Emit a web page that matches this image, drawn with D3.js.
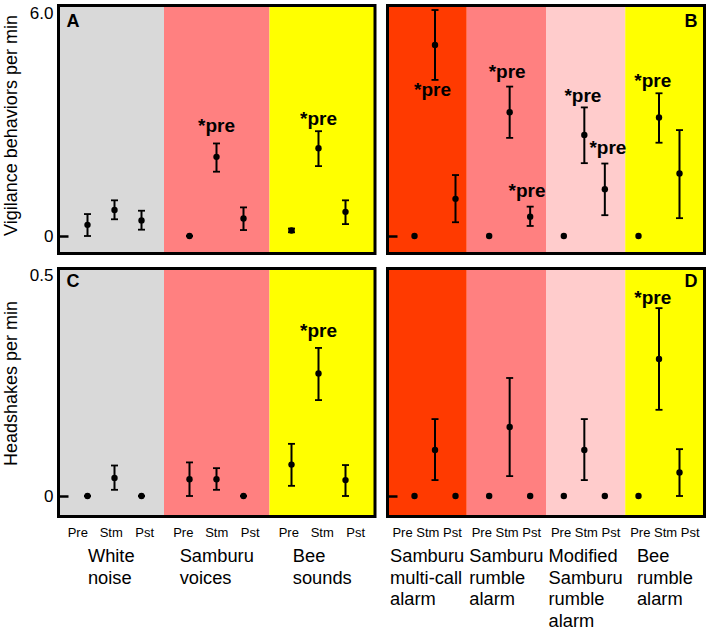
<!DOCTYPE html>
<html><head><meta charset="utf-8">
<script src="https://cdn.jsdelivr.net/npm/d3@7"></script>
<style>
body{margin:0;background:#fff}
svg{display:block}
text{font-family:"Liberation Sans",Arial,Helvetica,sans-serif;fill:#000}
</style>
</head><body>
<svg id="chart" width="712" height="632"></svg>
<script>
// ---------- DATA ----------
const conditions = ["Pre", "Stm", "Pst"];
const controlGroups = [["White", "noise"], ["Samburu", "voices"], ["Bee", "sounds"]];
const alarmGroups = [["Samburu", "multi-call", "alarm"], ["Samburu", "rumble", "alarm"],
                     ["Modified", "Samburu", "rumble", "alarm"], ["Bee", "rumble", "alarm"]];

const vigTicks = [0, 6];
const vigTickLabels = ["0", "6.0"];
const headTicks = [0, 0.5];
const headTickLabels = ["0", "0.5"];

// Panel A: vigilance, control playbacks (rows = groups, cols = Pre/Stm/Pst)
const vigA_mean = [[0.30, 0.70, 0.42], [0.00, 2.13, 0.47], [0.15, 2.36, 0.65]];
const vigA_low  = [[0.00, 0.45, 0.17], [0.00, 1.73, 0.16], [0.10, 1.88, 0.32]];
const vigA_high = [[0.59, 0.96, 0.68], [0.00, 2.49, 0.77], [0.20, 2.82, 0.96]];

// Panel B: vigilance, alarm playbacks
const vigB_mean = [[0, 5.14, 1.00], [0, 3.33, 0.52], [0, 2.72, 1.26], [0, 3.19, 1.68]];
const vigB_low  = [[null, 4.20, 0.37], [null, 2.64, 0.27], [null, 1.96, 0.56], [null, 2.51, 0.48]];
const vigB_high = [[null, 6.08, 1.64], [null, 4.02, 0.79], [null, 3.46, 1.95], [null, 3.84, 2.85]];

// Panel C: headshakes, control playbacks
const headC_mean = [[0, 0.041, 0], [0.038, 0.038, 0], [0.071, 0.277, 0.036]];
const headC_low  = [[0, 0.014, 0], [0, 0.014, 0], [0.023, 0.217, 0]];
const headC_high = [[0, 0.069, 0], [0.076, 0.063, 0], [0.118, 0.335, 0.070]];

// Panel D: headshakes, alarm playbacks
const headD_mean = [[0, 0.104, 0], [0, 0.156, 0], [0, 0.104, 0], [0, 0.310, 0.053]];
const headD_low  = [[null, 0.036, null], [null, 0.045, null], [null, 0.036, null], [null, 0.195, 0.000]];
const headD_high = [[null, 0.174, null], [null, 0.267, null], [null, 0.174, null], [null, 0.425, 0.106]];

// "*pre" significance annotations: group, condition index, value (text baseline)
const annA = [{g: 1, c: 1, v: 2.80}, {g: 2, c: 1, v: 3.00}];
const annB = [{g: 0, c: 0.88, v: 3.77}, {g: 1, c: 0.88, v: 4.24}, {g: 1, c: 1.85, v: 1.05},
              {g: 2, c: 0.93, v: 3.60}, {g: 2, c: 2.15, v: 2.20}, {g: 3, c: 0.70, v: 4.00}];
const annC = [{g: 2, c: 1, v: 0.36}];
const annD = [{g: 3, c: 0.70, v: 0.435}];
const annText = "*pre";

// ---------- STYLE / LAYOUT ----------
const controlColors = ["#d9d9d9", "#ff8080", "#ffff00"];
const alarmColors = ["#ff3a00", "#ff8080", "#ffcccc", "#ffff00"];

const svg = d3.select("#chart");
const leftX = [58.5, 375], rightX = [387.5, 704.5];
const topY = [5.5, 253.5], botY = [268.5, 516.5];

const panels = [
  {letter: "A", xr: leftX, yr: topY, groups: controlGroups, colors: controlColors,
   mean: vigA_mean, low: vigA_low, high: vigA_high, ann: annA,
   domain: [0, 6], range: [236, 13], ticks: vigTicks, tickLabels: vigTickLabels,
   gRange: [114.5, 318.5], step: 27, letterRight: false, letterY: 27},
  {letter: "B", xr: rightX, yr: topY, groups: alarmGroups, colors: alarmColors,
   mean: vigB_mean, low: vigB_low, high: vigB_high, ann: annB,
   domain: [0, 6], range: [236, 13], ticks: vigTicks, tickLabels: null,
   gRange: [435, 659], step: 20.5, letterRight: true, letterY: 27},
  {letter: "C", xr: leftX, yr: botY, groups: controlGroups, colors: controlColors,
   mean: headC_mean, low: headC_low, high: headC_high, ann: annC,
   domain: [0, 0.5], range: [496, 275], ticks: headTicks, tickLabels: headTickLabels,
   gRange: [114.5, 318.5], step: 27, letterRight: false, letterY: 287, bottom: true, condSpacing: 33.5},
  {letter: "D", xr: rightX, yr: botY, groups: alarmGroups, colors: alarmColors,
   mean: headD_mean, low: headD_low, high: headD_high, ann: annD,
   domain: [0, 0.5], range: [496, 275], ticks: headTicks, tickLabels: null,
   gRange: [435, 659], step: 20.5, letterRight: true, letterY: 287, bottom: true, joined: true}
];

panels.forEach(p => {
  const g = svg.append("g");
  const names = p.groups.map(d => d.join(" "));
  const band = d3.scaleBand().domain(names).range(p.xr).paddingInner(0).paddingOuter(0);
  const y = d3.scaleLinear().domain(p.domain).range(p.range);
  const gx = d3.scaleLinear().domain([0, names.length - 1]).range(p.gRange);
  const px = (gi, c) => gx(gi) + (c - 1) * p.step;

  // background bands
  g.selectAll("rect.band").data(names).join("rect")
    .attr("x", d => band(d)).attr("y", p.yr[0])
    .attr("width", band.bandwidth()).attr("height", p.yr[1] - p.yr[0])
    .attr("fill", (d, i) => p.colors[i]);

  // axis
  const axis = d3.axisLeft(y).tickValues(p.ticks)
    .tickFormat((d, i) => p.tickLabels ? p.tickLabels[i] : "")
    .tickSizeInner(-10).tickSizeOuter(0).tickPadding(5);
  const ax = g.append("g").attr("transform", `translate(${p.xr[0]},0)`).call(axis);
  ax.select(".domain").remove();
  ax.selectAll(".tick line").attr("stroke", "#000").attr("stroke-width", 2.5)
    .attr("opacity", d => d === 0 ? 1 : 0);
  ax.selectAll(".tick text").style("font-size", "17px").attr("fill", "#000")
    .style("font-family", '"Liberation Sans",Arial,sans-serif');

  // points
  const pts = [];
  p.mean.forEach((row, gi) => row.forEach((m, c) => {
    pts.push({gi, c, m, lo: p.low[gi][c], hi: p.high[gi][c]});
  }));
  const eb = pts.filter(d => d.lo !== null && d.hi !== null);
  g.selectAll("line.err").data(eb).join("line")
    .attr("x1", d => px(d.gi, d.c)).attr("x2", d => px(d.gi, d.c))
    .attr("y1", d => y(d.lo)).attr("y2", d => y(d.hi))
    .attr("stroke", "#000").attr("stroke-width", 2);
  ["lo", "hi"].forEach(k => {
    g.selectAll("line.cap" + k).data(eb).join("line")
      .attr("x1", d => px(d.gi, d.c) - 3.5).attr("x2", d => px(d.gi, d.c) + 3.5)
      .attr("y1", d => y(d[k])).attr("y2", d => y(d[k]))
      .attr("stroke", "#000").attr("stroke-width", 1.8);
  });
  g.selectAll("circle.pt").data(pts).join("circle")
    .attr("cx", d => px(d.gi, d.c)).attr("cy", d => y(d.m)).attr("r", 3.2)
    .attr("fill", "#000");

  // annotations
  g.selectAll("text.ann").data(p.ann).join("text")
    .attr("x", d => px(d.g, d.c)).attr("y", d => y(d.v))
    .attr("text-anchor", "middle").style("font-size", "19px").style("font-weight", "bold")
    .text(annText);

  // border
  g.append("rect").attr("x", p.xr[0]).attr("y", p.yr[0])
    .attr("width", p.xr[1] - p.xr[0]).attr("height", p.yr[1] - p.yr[0])
    .attr("fill", "none").attr("stroke", "#000").attr("stroke-width", 3);

  // panel letter
  g.append("text").attr("x", p.letterRight ? p.xr[1] - 7 : p.xr[0] + 8).attr("y", p.letterY)
    .attr("text-anchor", p.letterRight ? "end" : "start")
    .style("font-size", "18px").style("font-weight", "bold").text(p.letter);

  // bottom labels
  if (p.bottom) {
    names.forEach((nm, i) => {
      const cx = band(nm) + band.bandwidth() / 2;
      if (p.joined) {
        g.append("text").attr("x", cx).attr("y", 537).attr("text-anchor", "middle")
          .style("font-size", "13px").text(conditions.join(" "));
      } else {
        conditions.forEach((c, ci) => {
          g.append("text").attr("x", cx + (ci - 1) * p.condSpacing).attr("y", 537)
            .attr("text-anchor", "middle").style("font-size", "13px").text(c);
        });
      }
      const t = g.append("text").style("font-size", "18.3px");
      const spans = t.selectAll("tspan").data(p.groups[i]).join("tspan")
        .attr("y", (d, li) => 562 + li * 21.5).text(d => d);
      let maxW = 0;
      spans.each(function () { maxW = Math.max(maxW, this.getComputedTextLength()); });
      spans.attr("x", cx - maxW / 2);
    });
  }
});

// y-axis titles
svg.append("text").attr("transform", "translate(17,125.5) rotate(-90)")
  .attr("text-anchor", "middle").style("font-size", "18px").text("Vigilance behaviors per min");
svg.append("text").attr("transform", "translate(17,383.5) rotate(-90)")
  .attr("text-anchor", "middle").style("font-size", "18px").text("Headshakes per min");
</script>
</body></html>
